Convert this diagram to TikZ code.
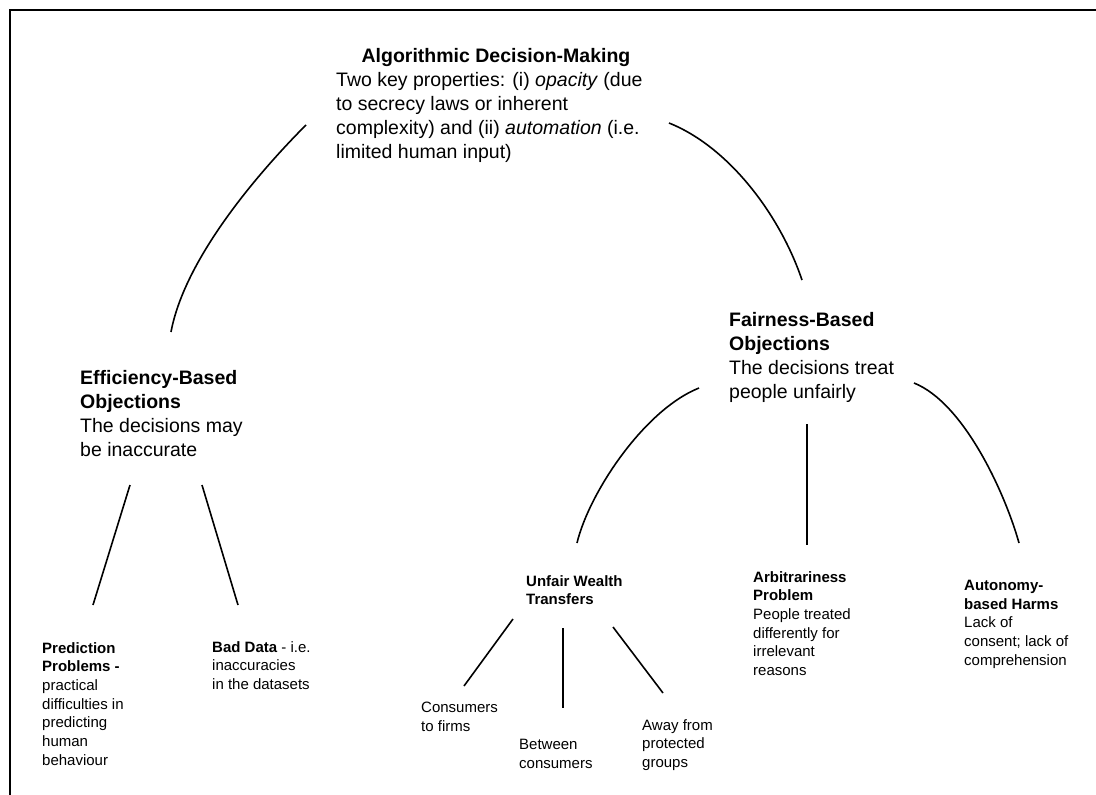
\documentclass[tikz,border=0pt]{standalone}
\usepackage{fontspec}
\setmainfont{Liberation Sans}
\begin{document}
\begin{tikzpicture}[x=1pt,y=-1pt,
  big/.style={font=\fontsize{19.5}{24}\selectfont, align=left, inner sep=0pt, anchor=north west},
  small/.style={font=\fontsize{15}{18.7}\selectfont, align=left, inner sep=0pt, anchor=north west},
  link/.style={line width=1.6pt},
  frameline/.style={line width=2pt}]
\useasboundingbox (0,0) rectangle (1096,795);
% frame
\coordinate (ftl) at (10,10);
\coordinate (ftr) at (1096,10);
\coordinate (fbl) at (10,795);
\draw[frameline] (fbl) -- (ftl) -- (ftr);

% top node
\node[big, anchor=north, font=\fontsize{19.5}{24}\selectfont\bfseries] (admt) at (496,48) {Algorithmic Decision-Making};
\node[big] (adm) at (336,72) {Two key properties: (i) \textit{opacity} (due\\to secrecy laws or inherent\\complexity) and (ii) \textit{automation} (i.e.\\limited human input)};

% efficiency
\node[big] (eff) at (80,370) {\textbf{Efficiency-Based}\\\textbf{Objections}\\The decisions may\\be inaccurate};
% fairness
\node[big] (fair) at (729,312) {\textbf{Fairness-Based}\\\textbf{Objections}\\The decisions treat\\people unfairly};

% leaves
\node[small] (pred) at (42,642) {\textbf{Prediction}\\\textbf{Problems -}\\practical\\difficulties in\\predicting\\human\\behaviour};
\node[small] (bad) at (212,641) {\textbf{Bad Data} - i.e.\\inaccuracies\\in the datasets};
\node[small] (uwt) at (526,575) {\textbf{Unfair Wealth}\\\textbf{Transfers}};
\node[small] (ctf) at (421,702) {Consumers\\to firms};
\node[small] (bc) at (519,739) {Between\\consumers};
\node[small] (afp) at (642,719) {Away from\\protected\\groups};
\node[small] (arb) at (753,571) {\textbf{Arbitrariness}\\\textbf{Problem}\\People treated\\differently for\\irrelevant\\reasons};
\node[small] (aut) at (964,580) {\textbf{Autonomy-}\\\textbf{based Harms}\\Lack of\\consent; lack of\\comprehension};

% connector end points
\coordinate (admL) at (306,125);
\coordinate (effT) at (171,332);
\coordinate (admR) at (669,123);
\coordinate (fairT) at (802,280);
\coordinate (effBL) at (130,485);
\coordinate (predT) at (93,605);
\coordinate (effBR) at (202,485);
\coordinate (badT) at (238,605);
\coordinate (fairBL) at (699,388);
\coordinate (uwtT) at (577,543);
\coordinate (fairBM) at (807,424);
\coordinate (arbT) at (807,545);
\coordinate (fairBR) at (914,383);
\coordinate (autT) at (1019,543);
\coordinate (uwtBL) at (513,619);
\coordinate (ctfT) at (464,686);
\coordinate (uwtBM) at (563,628);
\coordinate (bcT) at (563,708);
\coordinate (uwtBR) at (613,627);
\coordinate (afpT) at (663,693);

% connectors
\draw[link] (admL) .. controls (261,170) and (185,257) .. (effT);
\draw[link] (admR) .. controls (729,147) and (780,215) .. (fairT);
\draw[link] (fairBL) .. controls (644,410) and (589,493) .. (uwtT);
\draw[link] (fairBR) .. controls (964,403) and (1005,493) .. (autT);
\draw[link] (fairBM) -- (arbT);
\draw[link] (effBL) -- (predT);
\draw[link] (effBR) -- (badT);
\draw[link] (uwtBL) -- (ctfT);
\draw[link] (uwtBM) -- (bcT);
\draw[link] (uwtBR) -- (afpT);
\end{tikzpicture}
\end{document}
